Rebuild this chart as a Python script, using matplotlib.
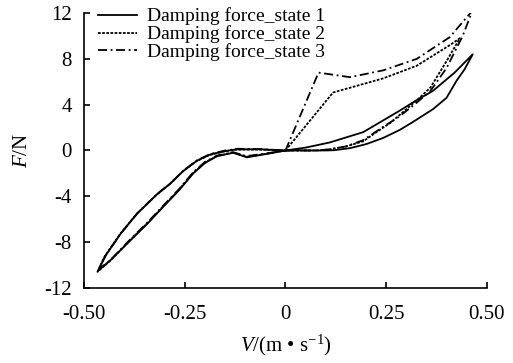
import numpy as np
import matplotlib
matplotlib.use("Agg")
import matplotlib.pyplot as plt

plt.rcParams['font.family'] = ['Liberation Serif', 'DejaVu Serif']
plt.rcParams['mathtext.fontset'] = 'custom'
plt.rcParams['mathtext.rm'] = 'Liberation Serif'
plt.rcParams['mathtext.it'] = 'Liberation Serif:italic'
plt.rcParams['axes.unicode_minus'] = False

# loop points (V, F)
# state 1 - solid
v1 = [0, 0.05, 0.11, 0.193, 0.28, 0.326, 0.366, 0.42, 0.465,
      0.445, 0.425, 0.40, 0.366, 0.317, 0.284, 0.243, 0.20, 0.16, 0.12, 0.10, 0,
      -0.046, -0.096, -0.13, -0.17, -0.20, -0.229, -0.265, -0.303, -0.343, -0.385, -0.435, -0.465,
      -0.447, -0.41, -0.368, -0.318, -0.286, -0.254, -0.22, -0.187, -0.15, -0.12, -0.063, 0]
f1 = [0, 0.25, 0.7, 1.6, 3.4, 4.4, 5.2, 6.8, 8.4,
      7.1, 6.1, 4.6, 3.6, 2.5, 1.8, 1.1, 0.55, 0.2, 0.02, 0, 0,
      -0.3, -0.6, -0.2, -0.5, -1.1, -2.0, -3.5, -4.9, -6.4, -7.85, -9.6, -10.5,
      -9.2, -7.3, -5.5, -3.8, -2.9, -1.8, -0.9, -0.35, -0.05, 0.1, 0.1, 0]

# state 2 - dotted
v2 = [0, 0.118, 0.243, 0.326, 0.408, 0.433,
      0.40, 0.36, 0.333, 0.30, 0.26, 0.23, 0.193, 0.15, 0.11, 0.08, 0,
      -0.046, -0.094, -0.13, -0.17, -0.20, -0.229, -0.265, -0.303, -0.343, -0.385, -0.436, -0.467,
      -0.449, -0.412, -0.370, -0.320, -0.288, -0.256, -0.222, -0.189, -0.152, -0.122, -0.063, 0]
f2 = [0, 5.06, 6.3, 7.4, 9.2, 9.8,
      7.8, 5.5, 4.6, 3.6, 2.4, 1.7, 0.8, 0.35, 0.1, 0, 0,
      -0.28, -0.55, -0.18, -0.48, -1.05, -1.95, -3.45, -4.85, -6.35, -7.8, -9.65, -10.6,
      -9.25, -7.35, -5.55, -3.85, -2.95, -1.85, -0.95, -0.4, -0.08, 0.08, 0.08, 0]

# state 3 - dash-dot
v3 = [0, 0.082, 0.16, 0.243, 0.326, 0.408, 0.464,
      0.44, 0.40, 0.36, 0.32, 0.28, 0.24, 0.193, 0.15, 0.11, 0.08, 0,
      -0.046, -0.098, -0.13, -0.17, -0.20, -0.229, -0.265, -0.303, -0.343, -0.385, -0.434, -0.466,
      -0.446, -0.409, -0.367, -0.317, -0.285, -0.253, -0.219, -0.186, -0.149, -0.119, -0.063, 0]
f3 = [0, 6.8, 6.4, 7.0, 8.0, 9.9, 12.2,
      10.0, 7.2, 5.2, 4.0, 2.9, 2.0, 0.9, 0.35, 0.1, 0, 0,
      -0.25, -0.5, -0.15, -0.45, -1.0, -1.9, -3.4, -4.8, -6.3, -7.75, -9.55, -10.45,
      -9.15, -7.25, -5.45, -3.75, -2.85, -1.75, -0.85, -0.3, 0.0, 0.15, 0.12, 0]

labels = ['Damping force_state 1', 'Damping force_state 2', 'Damping force_state 3']
xticks = [-0.5, -0.25, 0, 0.25, 0.5]
xticklabels = ['-0.50', '-0.25', '0', '0.25', '0.50']
yticks = [-12, -8, -4, 0, 4, 8, 12]
yticklabels = ['-12', '-8', '-4', '0', '4', '8', '12']

fig = plt.figure(figsize=(5.13, 3.63), dpi=100)
ax = fig.add_axes([0.164, 0.207, 0.785, 0.757])

ax.plot(v1, f1, color='black', lw=1.3, linestyle='-', label=labels[0])
ax.plot(v2, f2, color='black', lw=1.3, linestyle=(0, (1.5, 0.8)), label=labels[1])
ax.plot(v3, f3, color='black', lw=1.3, linestyle=(0, (5, 2, 1, 2)), label=labels[2])

ax.set_xlim(-0.5, 0.5)
ax.set_ylim(-12, 12)
ax.set_xticks(xticks)
ax.set_xticklabels(xticklabels)
ax.set_yticks(yticks)
ax.set_yticklabels(yticklabels)
ax.tick_params(direction='in', length=4, width=1.2, labelsize=15)
ax.tick_params(axis='x', pad=12)
ax.tick_params(axis='y', pad=9)
ax.spines['top'].set_visible(False)
ax.spines['right'].set_visible(False)
for s in ['left', 'bottom']:
    ax.spines[s].set_linewidth(1.2)

ax.set_xlabel(r'$\it{V}$/(m • s$^{\rm{-1}}$)', fontsize=15)
ax.set_ylabel(r'$\it{F}$/N', fontsize=15)
ax.xaxis.set_label_coords(0.5, -0.165)
ax.yaxis.set_label_coords(-0.13, 0.5)

ax.legend(loc='upper left', frameon=False, fontsize=14, handlelength=2.0,
          handletextpad=0.5, labelspacing=0.0, borderaxespad=0.0,
          borderpad=0.0, bbox_to_anchor=(0.035, 1.02))

fig.savefig('out.png', dpi=100)
